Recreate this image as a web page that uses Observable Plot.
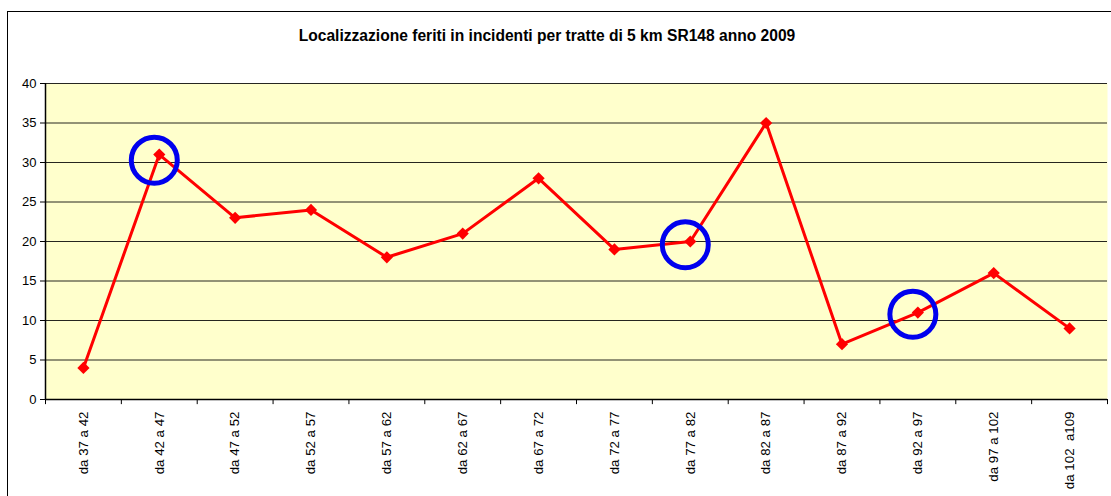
<!DOCTYPE html>
<html>
<head>
<meta charset="utf-8">
<script src="https://cdn.jsdelivr.net/npm/d3@7"></script>
<script src="https://cdn.jsdelivr.net/npm/@observablehq/plot@0.6"></script>
<style>
  html, body { margin: 0; padding: 0; background: #fff; overflow: hidden; }
  #wrap { position: relative; width: 1111px; height: 496px; font-family: "Liberation Sans", Arial, sans-serif; }
  #border { position: absolute; left: 7px; top: 11px; width: 1120px; height: 500px; border: 1px solid #000; box-sizing: border-box; pointer-events: none; }
  #title { position: absolute; left: 0; top: 0; width: 1111px; height: 60px; box-sizing: border-box; padding-top: 27px; padding-right: 17px; text-align: center; font-weight: bold; font-size: 15.6px; color: #000; }
  #chart { position: absolute; left: 0; top: 60px; }
</style>
</head>
<body>
<div id="wrap">
  <div id="title">Localizzazione feriti in incidenti per tratte di 5 km SR148 anno 2009</div>
  <div id="chart"></div>
  <div id="border"></div>
</div>
<script>
const categories = ["da 37 a 42", "da 42 a 47", "da 47 a 52", "da 52 a 57", "da 57 a 62", "da 62 a 67", "da 67 a 72", "da 72 a 77", "da 77 a 82", "da 82 a 87", "da 87 a 92", "da 92 a 97", "da 97 a 102", "da 102  a109"];
const feriti = [4, 31, 23, 24, 18, 21, 28, 19, 20, 35, 7, 11, 16, 9];
const yTicks = [0, 5, 10, 15, 20, 25, 30, 35, 40];
const highlightCats = ["da 42 a 47", "da 77 a 82", "da 92 a 97"];
const highlightVals = [30.3, 19.6, 10.8];

const data = categories.map((c, i) => ({i, cat: c, v: feriti[i]}));
const highlights = highlightCats.map((c, k) => ({i: categories.indexOf(c), v: highlightVals[k]}));
const idx = categories.map((c, i) => i);
const bounds = categories.map((c, i) => i - 0.5).concat([categories.length - 0.5]);

const chart = Plot.plot({
  width: 1111,
  height: 436,
  marginTop: 23,
  marginLeft: 45,
  marginRight: 4,
  marginBottom: 97,
  style: {fontFamily: "'Liberation Sans', Arial, sans-serif", fontSize: "13px", background: "transparent", color: "#000", overflow: "visible"},
  x: {type: "linear", domain: [-0.5, categories.length - 0.5]},
  y: {domain: [0, 40]},
  marks: [
    Plot.frame({fill: "#FFFFCC", stroke: null}),
    Plot.ruleY(yTicks.filter(t => t > 0), {stroke: "#000", strokeWidth: 1, strokeOpacity: 0.85}),
    Plot.ruleX([-0.5], {y1: 0, y2: 40, stroke: "#000", strokeWidth: 1.5}),
    Plot.ruleY([0], {stroke: "#000", strokeWidth: 1.5}),
    Plot.axisY({ticks: yTicks, tickSize: 5, tickPadding: 4, fontSize: 13, stroke: "#000", label: null}),
    Plot.ruleX(bounds, {x: d => d, y1: 0, y2: -0.65, stroke: "#000", clip: false}),
    Plot.axisX({ticks: idx, tickFormat: i => categories[i], tickSize: 0, tickPadding: 12, tickRotate: -90, fontSize: 13.3, label: null}),
    Plot.line(data, {x: "i", y: "v", stroke: "#FF0000", strokeWidth: 3}),
    Plot.dot(data, {x: "i", y: "v", symbol: "diamond2", r: 5.5, fill: "#FF0000", stroke: "none"}),
    Plot.dot(highlights, {x: "i", y: "v", r: 23, fill: "none", stroke: "#0000EE", strokeWidth: 5, dx: -5})
  ]
});
document.getElementById("chart").appendChild(chart);
</script>
</body>
</html>
